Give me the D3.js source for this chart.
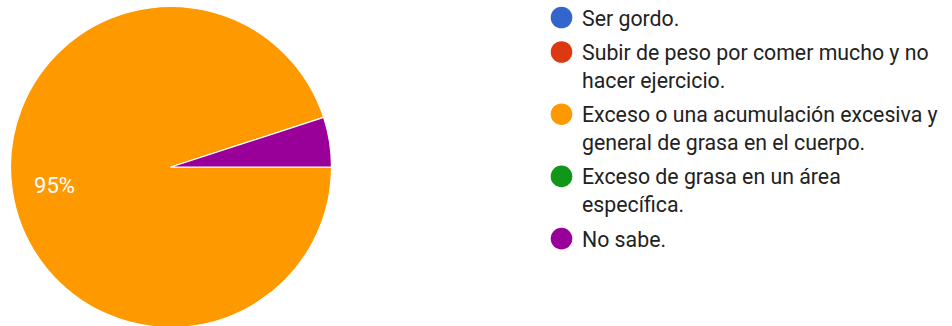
<!DOCTYPE html>
<html>
<head>
<meta charset="utf-8">
<script src="https://cdn.jsdelivr.net/npm/d3@7"></script>
<style>
  html, body { margin: 0; padding: 0; background: #fff; }
  svg { display: block; }
</style>
</head>
<body>
<svg id="chart" width="952" height="326"></svg>
<script>
// Survey answers (Spanish), legend lines already wrapped as displayed
const categories = [
  "Ser gordo.",
  "Subir de peso por comer mucho y no hacer ejercicio.",
  "Exceso o una acumulación excesiva y general de grasa en el cuerpo.",
  "Exceso de grasa en un área específica.",
  "No sabe."
];
const legendLines = [
  ["Ser gordo."],
  ["Subir de peso por comer mucho y no", "hacer ejercicio."],
  ["Exceso o una acumulación excesiva y", "general de grasa en el cuerpo."],
  ["Exceso de grasa en un área", "específica."],
  ["No sabe."]
];
const percentages = [0, 0, 95, 0, 5];
const colors = ["#3366cc", "#dc3912", "#ff9900", "#109618", "#990099"];

const FONT = "Roboto, Arial, sans-serif";
const svg = d3.select("#chart");
const cx = 171, cy = 167, R = 160.5;

const data = categories.map((c, i) => ({ name: c, value: percentages[i], color: colors[i] }));

const pie = d3.pie()
  .value(d => d.value)
  .sort(null)
  .startAngle(Math.PI / 2)
  .endAngle(Math.PI / 2 + 2 * Math.PI);

const arcs = pie(data).filter(a => a.data.value > 0);
const arc = d3.arc().innerRadius(0).outerRadius(R);
const labelArc = d3.arc().innerRadius(R * 0.735).outerRadius(R * 0.735);

const g = svg.append("g").attr("transform", `translate(${cx},${cy})`);

g.selectAll("path.slice")
  .data(arcs)
  .join("path")
  .attr("class", "slice")
  .attr("d", arc)
  .attr("fill", d => d.data.color)
  .attr("stroke", "#fff")
  .attr("stroke-width", 1.2)
  .attr("stroke-linejoin", "round");

// Percentage labels only on slices large enough to hold them
g.selectAll("text.pct")
  .data(arcs.filter(a => a.data.value >= 10))
  .join("text")
  .attr("class", "pct")
  .attr("x", d => labelArc.centroid(d)[0])
  .attr("y", d => labelArc.centroid(d)[1])
  .attr("dy", "0.36em")
  .attr("text-anchor", "middle")
  .attr("fill", "#fff")
  .attr("font-family", FONT)
  .attr("font-size", 22)
  .text(d => d.data.value + "%");

// Legend
const legend = svg.append("g").attr("font-family", FONT).attr("font-size", 21.3);
const lineH = 27.7, itemGap = 6.8;
let baseline = 25.5;
legendLines.forEach((lines, i) => {
  const item = legend.append("g");
  item.append("circle")
    .attr("cx", 561.5)
    .attr("cy", baseline - 8)
    .attr("r", 10.8)
    .attr("fill", colors[i]);
  lines.forEach((ln, j) => {
    item.append("text")
      .attr("x", 582)
      .attr("y", baseline + j * lineH)
      .attr("fill", "#222")
      .text(ln);
  });
  baseline += lines.length * lineH + itemGap;
});
</script>
</body>
</html>
